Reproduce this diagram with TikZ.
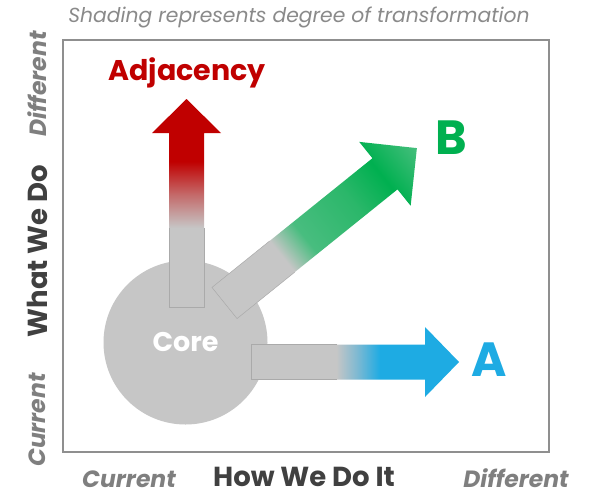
\documentclass[tikz,border=0pt]{standalone}
\usepackage{fontspec}
\setmainfont{Poppins}
\definecolor{coregray}{HTML}{C6C6C6}
\definecolor{edgegray}{HTML}{AAAAAA}
\definecolor{framegray}{HTML}{8F8F8F}
\definecolor{axisdark}{HTML}{404040}
\definecolor{endgray}{HTML}{7F7F7F}
\definecolor{titlegray}{HTML}{8A8A8A}
\definecolor{adjred}{HTML}{C00000}
\definecolor{adjpink}{HTML}{C46A6A}
\definecolor{bgreen}{HTML}{00B050}
\definecolor{bgreenlight}{HTML}{48BD7F}
\definecolor{bgreenmid}{HTML}{2BB76A}
\definecolor{bgreentip}{HTML}{45BE7C}
\definecolor{ablue}{HTML}{1EABE3}
\definecolor{abluepale}{HTML}{7EB9D2}
% gradients: grey tail blending into the colour of each direction
\pgfdeclareverticalshading{adjfill}{100bp}{color(0bp)=(coregray); color(44bp)=(coregray); color(52bp)=(adjpink); color(60bp)=(adjred); color(100bp)=(adjred)}
\pgfdeclarehorizontalshading{afill}{100bp}{color(0bp)=(coregray); color(45.5bp)=(coregray); color(50.5bp)=(abluepale); color(56bp)=(ablue); color(100bp)=(ablue)}
\pgfdeclarehorizontalshading{bfill}{100bp}{color(0bp)=(coregray); color(40bp)=(coregray); color(46bp)=(bgreenlight); color(58bp)=(bgreenmid); color(66bp)=(bgreen); color(75bp)=(bgreentip); color(100bp)=(bgreentip)}
\begin{document}
\begin{tikzpicture}[x=1pt,y=-1pt,
  frame/.style={draw=framegray,line width=1.8pt},
  axislbl/.style={font=\bfseries\fontsize{27.5}{30}\selectfont,text=axisdark,inner sep=0pt},
  endlbl/.style={font=\bfseries\itshape\fontsize{23.5}{26}\selectfont,text=endgray,inner sep=0pt},
  biglbl/.style={font=\bfseries\fontsize{48}{50}\selectfont,inner sep=0pt},
  tailline/.style={draw=edgegray,line width=0.5pt},
  corecircle/.style={circle,fill=coregray,minimum size=164pt,inner sep=0pt,
    text=white,font=\bfseries\fontsize{27}{30}\selectfont}]
\useasboundingbox (0,0) rectangle (593,495);
\fill[white] (0,0) rectangle (593,495);

\node[font=\itshape\fontsize{20.3}{22}\selectfont,text=titlegray,inner sep=0pt] (title) at (299,17)
  {Shading represents degree of transformation};
\draw[frame] (63,40) rectangle (549,452);

% the core
\node[corecircle] (core) at (185.5,342.5) {Core};

% adjacency arrow (up)
\shade[shading=adjfill] (169,307) -- (169,133) -- (152,133) -- (186.5,99) -- (221,133)
  -- (204,133) -- (204,307) -- cycle;
\draw[tailline] (169,228) -- (169,307) -- (204,307) -- (204,228);

% arrow A (right)
\shade[shading=afill] (251,344.5) -- (425,344.5) -- (425,327) -- (459,362) -- (425,397)
  -- (425,379.5) -- (251,379.5) -- cycle;
\draw[tailline] (337,344.5) -- (251,344.5) -- (251,379.5) -- (337,379.5);

% arrow B (diagonal), drawn along its own axis
\begin{scope}[transform canvas={shift={(224.5pt,-303pt)},rotate=38.84}]
  \shade[shading=bfill] (0,-20) -- (206,-20) -- (206,-41) -- (247,0) -- (206,41)
    -- (206,20) -- (0,20) -- cycle;
  \draw[tailline] (74,-20) -- (0,-20) -- (0,20) -- (74,20);
\end{scope}

% labels
\node[font=\bfseries\fontsize{28.5}{32}\selectfont,text=adjred,inner sep=0pt] (adjlbl) at (187,73) {Adjacency};
\node[biglbl,text=ablue] (albl) at (489,360) {A};
\node[biglbl,text=bgreen] (blbl) at (451,138) {B};

\node[axislbl] (howlbl) at (304,477) {How We Do It};
\node[axislbl,rotate=90] (whatlbl) at (37,251) {What We Do};
\node[endlbl] (curx) at (129,479) {Current};
\node[endlbl] (difx) at (516,478) {Different};
\node[endlbl,rotate=90] (cury) at (37,420) {Current};
\node[endlbl,rotate=90] (dify) at (37,84) {Different};
\end{tikzpicture}
\end{document}
